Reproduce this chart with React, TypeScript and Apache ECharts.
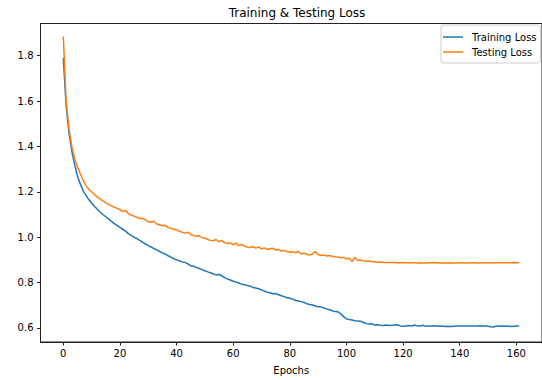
import React, { useEffect, useRef } from "react";
import * as echarts from "echarts";

const epochs: number[] = Array.from({ length: 162 }, (_, i) => i);

const trainingLoss: number[] = [
  1.79, 1.58, 1.46, 1.38, 1.32, 1.27, 1.235, 1.205, 1.185, 1.166,
  1.15, 1.136, 1.123, 1.111, 1.1, 1.09, 1.08, 1.07, 1.06, 1.052,
  1.043, 1.035, 1.027, 1.016, 1.008, 1.0, 0.994, 0.986, 0.978, 0.97,
  0.963, 0.957, 0.95, 0.944, 0.937, 0.931, 0.926, 0.918, 0.912, 0.905,
  0.9, 0.896, 0.891, 0.889, 0.882, 0.874, 0.872, 0.867, 0.862, 0.857,
  0.852, 0.847, 0.843, 0.838, 0.834, 0.836, 0.829, 0.822, 0.816, 0.811,
  0.806, 0.802, 0.798, 0.793, 0.79, 0.787, 0.784, 0.778, 0.776, 0.773,
  0.768, 0.763, 0.757, 0.755, 0.751, 0.752, 0.746, 0.742, 0.738, 0.733,
  0.731, 0.727, 0.721, 0.719, 0.716, 0.712, 0.707, 0.703, 0.701, 0.697,
  0.693, 0.693, 0.688, 0.684, 0.68, 0.676, 0.672, 0.671, 0.662, 0.65,
  0.64, 0.637, 0.635, 0.632, 0.631, 0.63, 0.624, 0.619, 0.617, 0.618,
  0.613, 0.614, 0.612, 0.611, 0.613, 0.611, 0.612, 0.613, 0.614, 0.609,
  0.607, 0.609, 0.611, 0.608, 0.613, 0.609, 0.608, 0.612, 0.607, 0.608,
  0.609, 0.61, 0.609, 0.607, 0.608, 0.606, 0.607, 0.606, 0.607, 0.608,
  0.608, 0.609, 0.609, 0.608, 0.608, 0.609, 0.608, 0.61, 0.609, 0.608,
  0.607, 0.605, 0.604, 0.609, 0.607, 0.608, 0.607, 0.608, 0.606, 0.607,
  0.608, 0.608,
];

const testingLoss: number[] = [
  1.885, 1.6, 1.48, 1.4, 1.345, 1.31, 1.28, 1.25, 1.228, 1.212,
  1.2, 1.188, 1.178, 1.169, 1.16, 1.152, 1.145, 1.138, 1.132, 1.127,
  1.122, 1.113, 1.118, 1.104, 1.098, 1.093, 1.088, 1.082, 1.084, 1.076,
  1.068, 1.066, 1.07, 1.058, 1.055, 1.05, 1.053, 1.042, 1.04, 1.035,
  1.033, 1.026, 1.022, 1.018, 1.022, 1.012, 1.008, 1.004, 1.006, 0.999,
  0.996, 0.99, 0.986, 0.984, 0.99, 0.98, 0.985, 0.976, 0.972, 0.975,
  0.966, 0.974, 0.962, 0.968, 0.961, 0.956, 0.955, 0.958, 0.952, 0.957,
  0.948, 0.953, 0.946, 0.949, 0.951, 0.944, 0.946, 0.939, 0.942, 0.937,
  0.934, 0.936, 0.931, 0.938, 0.927, 0.929, 0.925, 0.921, 0.926, 0.937,
  0.924, 0.919, 0.921, 0.917, 0.919, 0.916, 0.914, 0.913, 0.909, 0.911,
  0.905, 0.907, 0.893, 0.911, 0.897, 0.899, 0.896, 0.894, 0.895, 0.892,
  0.892, 0.89, 0.891, 0.889, 0.889, 0.888, 0.888, 0.888, 0.887, 0.888,
  0.887, 0.887, 0.886, 0.887, 0.887, 0.886, 0.887, 0.886, 0.886, 0.887,
  0.887, 0.888, 0.887, 0.886, 0.886, 0.886, 0.887, 0.886, 0.886, 0.886,
  0.887, 0.887, 0.886, 0.886, 0.887, 0.887, 0.886, 0.886, 0.887, 0.887,
  0.887, 0.886, 0.887, 0.887, 0.887, 0.887, 0.887, 0.887, 0.887, 0.888,
  0.887, 0.887,
];

const xTicks: number[] = [0, 20, 40, 60, 80, 100, 120, 140, 160];
const yTicks: number[] = [0.6, 0.8, 1.0, 1.2, 1.4, 1.6, 1.8];

const FONT = "DejaVu Sans";

export default function App() {
  const ref = useRef<HTMLDivElement>(null);

  useEffect(() => {
    if (!ref.current) return;
    const chart = echarts.init(ref.current, null, { renderer: "svg" });
    const trainData = epochs.map((e, i) => [e, trainingLoss[i]]);
    const testData = epochs.map((e, i) => [e, testingLoss[i]]);
    chart.setOption({
      animation: false,
      backgroundColor: "#ffffff",
      title: {
        text: "Training & Testing Loss",
        left: 292,
        top: 2,
        textAlign: "center",
        textStyle: { fontFamily: FONT, fontSize: 12, fontWeight: "normal", color: "#000" },
      },
      legend: {
        orient: "vertical",
        left: 441,
        top: 25,
        padding: [7, 4, 6, 2],
        itemGap: 5,
        itemWidth: 20,
        itemHeight: 1.5,
        icon: "rect",
        borderColor: "#cccccc",
        borderWidth: 1,
        borderRadius: 3,
        backgroundColor: "rgba(255,255,255,0.8)",
        textStyle: { fontFamily: FONT, fontSize: 10, color: "#000", padding: [0, 0, 0, 4] },
        data: ["Training Loss", "Testing Loss"],
      },
      grid: {
        left: 40.5,
        top: 23.5,
        width: 504,
        height: 324,
        show: true,
        borderColor: "#222",
        borderWidth: 1,
        backgroundColor: "transparent",
      },
      xAxis: {
        type: "value",
        min: -8.05,
        max: 169.05,
        name: "Epochs",
        nameLocation: "middle",
        nameGap: 23,
        nameTextStyle: { fontFamily: FONT, fontSize: 10, color: "#000" },
        axisLine: { show: true, onZero: false, lineStyle: { color: "#222", width: 1 } },
        splitLine: { show: false },
        axisTick: {
          show: true,
          inside: false,
          length: 3.5,
          customValues: xTicks,
          lineStyle: { color: "#222", width: 1 },
        },
        axisLabel: {
          customValues: xTicks,
          margin: 6,
          fontFamily: FONT,
          fontSize: 10,
          color: "#000",
        },
      },
      yAxis: {
        type: "value",
        min: 0.538,
        max: 1.942,
        axisLine: { show: true, onZero: false, lineStyle: { color: "#222", width: 1 } },
        splitLine: { show: false },
        axisTick: {
          show: true,
          inside: false,
          length: 3.5,
          customValues: yTicks,
          lineStyle: { color: "#222", width: 1 },
        },
        axisLabel: {
          customValues: yTicks,
          margin: 7,
          fontFamily: FONT,
          fontSize: 10,
          color: "#000",
          formatter: (v: number) => v.toFixed(1),
        },
      },
      series: [
        {
          name: "Training Loss",
          type: "line",
          data: trainData,
          showSymbol: false,
          symbol: "none",
          color: "#1f77b4",
          lineStyle: { color: "#1f77b4", width: 1.5 },
        },
        {
          name: "Testing Loss",
          type: "line",
          data: testData,
          showSymbol: false,
          symbol: "none",
          color: "#ff7f0e",
          lineStyle: { color: "#ff7f0e", width: 1.5 },
        },
      ],
    });
    return () => chart.dispose();
  }, []);

  return (
    <div
      ref={ref}
      style={{ position: "fixed", left: 0, top: 0, width: 542, height: 380, background: "#fff" }}
    />
  );
}
